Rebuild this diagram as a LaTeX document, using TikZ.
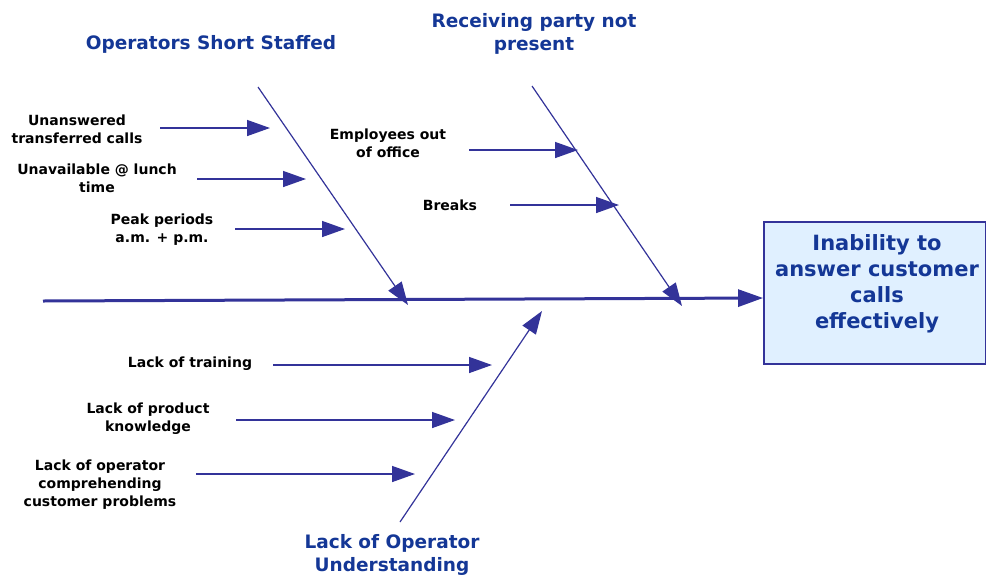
\documentclass[tikz,border=0pt]{standalone}
\usepackage{fontspec}
\setmainfont{DejaVu Sans}
\usetikzlibrary{arrows.meta}
\definecolor{navy}{RGB}{51,51,153}
\definecolor{labblue}{RGB}{20,55,150}
\definecolor{boxfill}{RGB}{224,240,255}
\tikzset{
  cause/.style={font=\bfseries\fontsize{14}{18}\selectfont, align=center, text=black, inner sep=0pt},
  cat/.style={font=\bfseries\fontsize{18.5}{23}\selectfont, align=center, text=labblue, inner sep=0pt},
  bone/.style={draw=navy, line width=1.2pt, -{Triangle[length=23pt,width=16pt]}},
  sub/.style={draw=navy, line width=1.4pt, -{Triangle[length=23pt,width=16pt]}},
  spine/.style={draw=navy, line width=3pt, -{Triangle[length=25pt,width=17pt]}},
  effect/.style={draw=navy, line width=1.8pt, fill=boxfill, minimum width=222pt, minimum height=142pt, inner sep=0pt},
  efftext/.style={font=\bfseries\fontsize{21}{26}\selectfont, text=labblue, align=center, inner sep=0pt}
}
\begin{document}
\begin{tikzpicture}[x=1pt,y=-1pt]
\useasboundingbox (0,0) rectangle (986,574);
% effect box
\node[effect] (eff) at (875,293) {};
\node[efftext] (efft) at (877,284) {Inability to\\answer customer\\calls\\effectively};
% spine
\coordinate (sp0) at (43,301);
\draw[spine] (sp0) -- (eff.west |- 0,298);
% category labels
\node[cat] (c1) at (211,44) {Operators Short Staffed};
\node[cat] (c2) at (534,33.5) {Receiving party not\\present};
\node[cat] (c3) at (392,555) {Lack of Operator\\Understanding};
% bones
\coordinate (b1s) at (258,87);  \coordinate (b1e) at (408,305);
\coordinate (b2s) at (532,86);  \coordinate (b2e) at (682,306);
\coordinate (b3s) at (400,522); \coordinate (b3e) at (542,311);
\draw[bone] (b1s) -- (b1e);
\draw[bone] (b2s) -- (b2e);
\draw[bone] (b3s) -- (b3e);
% causes
\node[cause] (u1) at (77,129) {Unanswered\\transferred calls};
\node[cause] (u2) at (97,178) {Unavailable @ lunch\\time};
\node[cause] (u3) at (162,230) {Peak periods\\a.m. + p.m.};
\node[cause] (r1) at (388,143) {Employees out\\of office};
\node[cause] (r2) at (450,205) {Breaks};
\node[cause] (l1) at (190,364) {Lack of training};
\node[cause] (l2) at (148,419) {Lack of product\\knowledge};
\node[cause] (l3) at (100,485) {Lack of operator\\comprehending\\customer problems};
% sub-arrows
\coordinate (u1s) at (160,128); \coordinate (u1e) at (270,128);
\coordinate (u2s) at (197,179); \coordinate (u2e) at (306,179);
\coordinate (u3s) at (235,229); \coordinate (u3e) at (345,229);
\coordinate (r1s) at (469,150); \coordinate (r1e) at (578,150);
\coordinate (r2s) at (510,205); \coordinate (r2e) at (619,205);
\coordinate (l1s) at (273,365); \coordinate (l1e) at (492,365);
\coordinate (l2s) at (236,420); \coordinate (l2e) at (455,420);
\coordinate (l3s) at (196,474); \coordinate (l3e) at (415,474);
\foreach \a in {u1,u2,u3,r1,r2,l1,l2,l3}{\draw[sub] (\a s) -- (\a e);}
\end{tikzpicture}
\end{document}
